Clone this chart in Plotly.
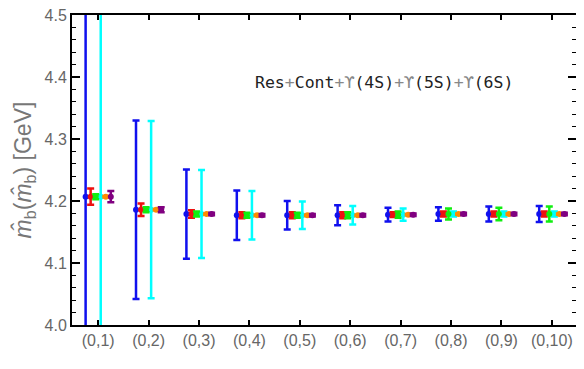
import plotly.graph_objects as go

categories = ["(0,1)", "(0,2)", "(0,3)", "(0,4)", "(0,5)", "(0,6)", "(0,7)", "(0,8)", "(0,9)", "(0,10)"]
central = [4.207, 4.186, 4.179, 4.177, 4.177, 4.177, 4.178, 4.179, 4.179, 4.179]

err_blue = [0.60, 0.144, 0.072, 0.040, 0.023, 0.016, 0.011, 0.011, 0.012, 0.013]
err_red = [0.013, 0.010, 0.006, 0.005, 0.005, 0.005, 0.004, 0.004, 0.004, 0.004]
err_green = [0.004, 0.004, 0.004, 0.004, 0.004, 0.005, 0.005, 0.009, 0.010, 0.012]
err_cyan = [0.60, 0.143, 0.071, 0.039, 0.022, 0.015, 0.010, 0.004, 0.004, 0.004]
err_orange = [0.001, 0.001, 0.001, 0.001, 0.001, 0.001, 0.001, 0.001, 0.001, 0.001]
err_purple = [0.009, 0.004, 0.002, 0.002, 0.002, 0.002, 0.002, 0.002, 0.002, 0.002]

# colour, x-offset inside each category, errors
series = [
    ("#1010ee", -0.25, err_blue),
    ("#00ffff", 0.05, err_cyan),
    ("#ee1010", -0.15, err_red),
    ("#10ee10", -0.05, err_green),
    ("#ff8c00", 0.15, err_orange),
    ("#800080", 0.25, err_purple),
]

fig = go.Figure()
for color, off, err in series:
    fig.add_trace(go.Scatter(
        x=[i + 1 + off for i in range(len(categories))],
        y=central,
        mode="markers",
        marker=dict(color=color, size=6),
        error_y=dict(type="data", array=err, color=color, thickness=2.5, width=3.5),
        showlegend=False,
    ))

fig.add_annotation(
    x=0.62, y=0.82, xref="paper", yref="paper", showarrow=False,
    text="Res<span style='color:#888'>+</span>Cont<span style='color:#888'>+ϒ</span>(4S)"
         "<span style='color:#888'>+ϒ</span>(5S)<span style='color:#888'>+ϒ</span>(6S)",
    font=dict(family="DejaVu Sans Mono", size=16.5, color="#222"),
)

# page body has an 8px margin, so the figure is drawn 8px smaller
fig.update_layout(
    width=576, height=361,
    margin=dict(l=64, r=8, t=7, b=44),
    plot_bgcolor="white", paper_bgcolor="white",
    font=dict(family="Liberation Sans", color="#666", size=16),
    xaxis=dict(
        range=[0.48, 10.48], tickvals=list(range(1, 11)), ticktext=categories,
        showline=True, mirror="ticks", linecolor="black", linewidth=2,
        ticks="inside", ticklen=5, tickcolor="black", tickwidth=1.5,
        showgrid=False, zeroline=False, automargin=False, ticklabeloverflow="allow",
    ),
    yaxis=dict(
        range=[4.0, 4.5], dtick=0.1, tickformat=".1f",
        showline=True, mirror="ticks", linecolor="black", linewidth=2,
        ticks="inside", ticklen=8, tickcolor="black", tickwidth=1.5,
        minor=dict(dtick=0.02, ticks="inside", ticklen=4, tickcolor="black", tickwidth=1),
        showgrid=False, zeroline=False, automargin=False, ticklabeloverflow="allow",
        title=dict(text="<i>m̂</i><sub>b</sub>(<i>m̂</i><sub>b</sub>) [GeV]", font=dict(size=23, color="#777"), standoff=6),
    ),
)

fig.write_html("out.html")
